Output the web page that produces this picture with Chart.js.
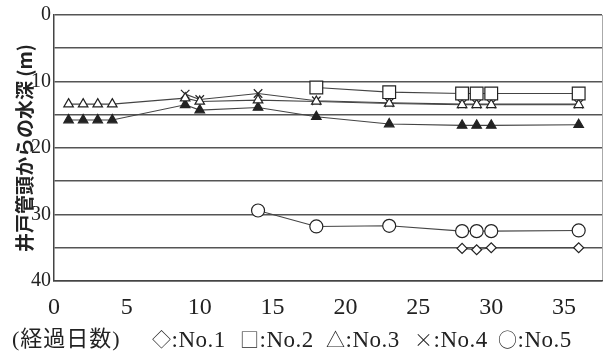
<!DOCTYPE html>
<html>
<head>
<meta charset="utf-8">
<script src="https://cdn.jsdelivr.net/npm/chart.js@4/dist/chart.umd.min.js"></script>
<style>
  html, body { margin: 0; padding: 0; background: #fff; }
  #wrap { position: relative; width: 614px; height: 356px; }
  #c { position: absolute; left: 0; top: 0; }
  .lbl { position: absolute; white-space: pre; color: #222; top: 327px;
         font-family: "Liberation Serif", "Noto Sans CJK JP", serif; font-size: 23px; line-height: 24px; letter-spacing: 0.5px; }
  .sym { font-family: "Noto Sans CJK JP", "DejaVu Sans", sans-serif; font-size: 19px; font-weight: 300; }
  .jp { font-family: "Liberation Serif", "Noto Sans CJK JP", serif; font-size: 22px; letter-spacing: 1px; }
</style>
</head>
<body>
<div id="wrap">
  <canvas id="c" width="614" height="356"></canvas>
  <div class="lbl jp" style="left:12px;">(経過日数)</div>
  <div id="legend"></div>
</div>
<script>
// Elapsed days (x) at which depths were measured
const days = [1, 2, 3, 4, 9, 10, 14, 18, 23, 28, 29, 30, 36];
// Water depth from well-head (m); null = not measured
const no1 = [null, null, null, null, null, null, null, null, null, 35.1, 35.3, 35.0, 35.0];
const no2 = [null, null, null, null, null, null, null, 10.9, 11.6, 11.8, 11.8, 11.8, 11.8];
const no3 = [13.4, 13.4, 13.4, 13.4, 12.5, 13.0, 12.8, 13.0, 13.3, 13.5, 13.5, 13.5, 13.5];
const no4 = [null, null, null, null, 11.9, 12.7, 11.8, 12.9, 13.2, 13.4, 13.4, 13.4, 13.4];
const no3b = [15.8, 15.8, 15.8, 15.8, 13.5, 14.3, 13.9, 15.3, 16.4, 16.6, 16.6, 16.6, 16.5];
const no5 = [null, null, null, null, null, null, 29.4, 31.8, 31.7, 32.5, 32.5, 32.5, 32.4];
// Axis labels and legend text
const yTickLabels = [0, 10, 20, 30, 40];
const xTickLabels = [0, 5, 10, 15, 20, 25, 30, 35];
const yTitle = '井戸管頭からの水深 (m)';
const legendSymbols = ['◇', '□', '△', '×', '○'];
const legendNames = ['No.1', 'No.2', 'No.3', 'No.4', 'No.5'];

// legend line (text)
const legendLeft = [152, 240, 326, 414, 498];
const lg = document.getElementById('legend');
legendNames.forEach((n, i) => {
  const d = document.createElement('div');
  d.className = 'lbl';
  d.style.left = legendLeft[i] + 'px';
  d.innerHTML = '<span class="sym">' + legendSymbols[i] + '</span>:' + n;
  lg.appendChild(d);
});

const X_MAX = 37.6;
const toPts = arr => days.map((d, i) => ({ x: d, y: arr[i] })).filter(p => p.y !== null);

const ink = '#222';
function ds(label, arr, style, radius, fill) {
  return {
    label, data: toPts(arr),
    borderColor: '#444', borderWidth: 1.1,
    pointStyle: style, pointRadius: radius, pointHoverRadius: radius,
    pointBorderColor: ink, pointBackgroundColor: fill, pointBorderWidth: 1.2,
    showLine: true, tension: 0, spanGaps: true
  };
}

new Chart(document.getElementById('c'), {
  type: 'scatter',
  data: {
    datasets: [
      ds('No.1', no1, 'rectRot', 5, '#fff'),
      ds('No.2', no2, 'rect', 9, '#fff'),
      ds('No.3', no3, 'triangle', 5.5, '#fff'),
      ds('No.3b', no3b, 'triangle', 5.5, ink),
      ds('No.4', no4, 'crossRot', 6, '#fff'),
      ds('No.5', no5, 'circle', 6.5, '#fff')
    ]
  },
  options: {
    responsive: false,
    animation: false,
    layout: { padding: { top: 15, right: 6, left: 0, bottom: 0 } },
    plugins: { legend: { display: false }, tooltip: { enabled: false } },
    scales: {
      x: {
        type: 'linear', min: 0, max: X_MAX,
        afterFit: s => { s.height = 75; },
        afterBuildTicks: s => { s.ticks = xTickLabels.map(v => ({ value: v })).concat([{ value: X_MAX }]); },
        ticks: {
          padding: 12, color: ink, maxRotation: 0, autoSkip: false,
          font: { family: 'Liberation Serif', size: 24 },
          callback: v => xTickLabels.includes(v) ? String(v) : ''
        },
        grid: {
          drawTicks: false,
          color: c => (c.tick && c.tick.value === X_MAX) ? '#aaa' : 'rgba(0,0,0,0)',
          lineWidth: 1
        },
        border: { display: true, color: '#444', width: 1.5 }
      },
      y: {
        type: 'linear', reverse: true, min: 0, max: 40,
        afterFit: s => { s.width = 54; },
        ticks: {
          stepSize: 5, padding: 3, color: ink,
          font: { family: 'Liberation Serif', size: 20 },
          callback: v => yTickLabels.includes(v) ? String(v) : ''
        },
        grid: { drawTicks: false, color: '#555', lineWidth: 1.6 },
        border: { display: true, color: '#444', width: 1.5 },
        title: {
          display: true, text: yTitle, color: ink,
          font: { family: 'Noto Sans CJK JP', size: 19, weight: 'bold' },
          padding: { top: 13, bottom: 0 }
        }
      }
    }
  }
});
</script>
</body>
</html>
